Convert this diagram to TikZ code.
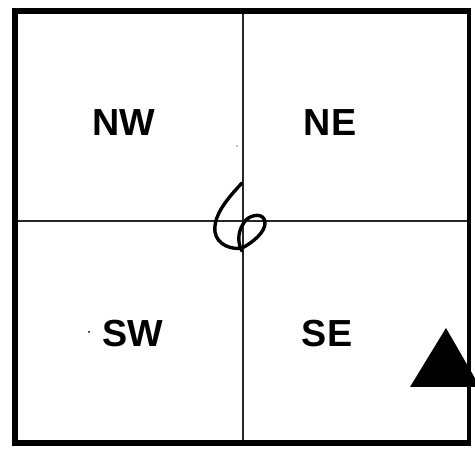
\documentclass[tikz,border=0pt]{standalone}
\usepackage{fontspec}
\setmainfont{Liberation Sans}

\begin{document}
\begin{tikzpicture}[x=1pt, y=-1pt, line join=round]
\tikzset{
  quadlabel/.style={inner sep=0pt, font=\fontsize{37.7}{40}\selectfont\bfseries},
  frameline/.style={draw=black, line width=6pt},
  gridline/.style={draw=black!85, line width=1.3pt},
  penline/.style={draw=black, line width=3.4pt, line cap=round}
}
\useasboundingbox (0,0) rectangle (475,454);
\clip (0,0) rectangle (475,454);

% quadrant grid
\coordinate (top) at (243,12);
\coordinate (bot) at (243,443);
\coordinate (lft) at (15,221);
\coordinate (rgt) at (469,221);
\draw[gridline] (top) -- (bot);
\draw[gridline] (lft) -- (rgt);

% outer frame
\draw[frameline] (15,11.5) -- (469,11.5);
\draw[frameline] (15,443) -- (469,443);
\draw[frameline] (15,8.5) -- (15,446);
\draw[draw=black, line width=4pt] (468.5,8.5) -- (468.5,446);

\node[quadlabel] (nw) at (124,123) {NW};
\node[quadlabel] (ne) at (330,123) {NE};
\node[quadlabel] (sw) at (133,334) {SW};
\node[quadlabel] (se) at (327,334) {SE};

% handwritten mark
\draw[penline] (242,183) .. controls (228,198) and (213,215) .. (215,232)
  .. controls (217,245) and (232,250) .. (242,248)
  .. controls (252,243) and (266,232) .. (265,222)
  .. controls (264,213) and (252,214) .. (246,220)
  .. controls (239,228) and (236,240) .. (242,251);

% marker
\fill (446,328) -- (410,387) -- (480,387) -- cycle;

% specks
\fill (89,332) circle (1pt);
\fill (237,146) circle (0.7pt);
\end{tikzpicture}
\end{document}
